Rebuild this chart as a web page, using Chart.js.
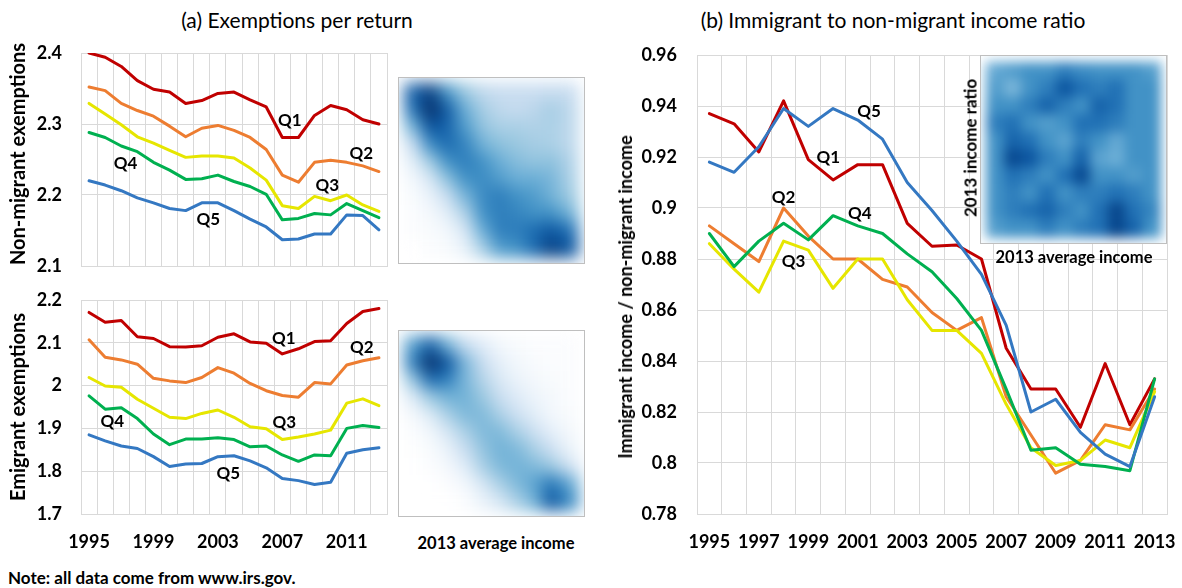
<!DOCTYPE html>
<html>
<head>
<meta charset="utf-8">
<script src="https://cdn.jsdelivr.net/npm/chart.js@4.4.1/dist/chart.umd.min.js"></script>
<style>
  html, body { margin: 0; padding: 0; background: #fff; }
  body { width: 1182px; height: 588px; position: relative; overflow: hidden; font-family: Lato, "Open Sans", sans-serif; color: #000; }
  canvas { position: absolute; display: block; }
  .txt { position: absolute; white-space: nowrap; line-height: 1; }
  .title { font-size: 21px; transform: translate(-50%, -50%); }
  .bold { font-weight: bold; }
  .ctr { transform: translate(-50%, -50%); }
  .rot { transform: translate(-50%, -50%) rotate(-90deg); }
</style>
</head>
<body>
<div class="txt title" style="left:297px; top:19px;">(a) Exemptions per return</div>
<div class="txt title" style="left:893px; top:19px;">(b) Immigrant to non-migrant income ratio</div>

<canvas id="cNon" width="392" height="236" style="left:0px; top:40px;"></canvas>
<canvas id="cEmi" width="392" height="280" style="left:0px; top:280px;"></canvas>
<canvas id="cRatio" width="582" height="520" style="left:600px; top:40px;"></canvas>

<canvas id="hNon" width="187" height="187" style="left:398px; top:77px;"></canvas>
<canvas id="hEmi" width="187" height="187" style="left:398px; top:330px;"></canvas>
<canvas id="hRatio" width="187" height="189" style="left:980px; top:55px;"></canvas>

<div class="txt bold rot" style="left:17px; top:154px; font-size:20px;">Non-migrant exemptions</div>
<div class="txt bold rot" style="left:17px; top:407px; font-size:20px;">Emigrant exemptions</div>
<div class="txt bold rot" style="left:625px; top:297px; font-size:18px;">Immigrant income / non-migrant income</div>

<div class="txt bold ctr" style="left:496px; top:543px; font-size:16.5px;">2013 average income</div>
<div class="txt bold ctr" style="left:1074px; top:257px; font-size:16.5px;">2013 average income</div>
<div class="txt bold rot" style="left:970px; top:148px; font-size:17px;">2013 income ratio</div>
<div class="txt bold" style="left:8px; top:569px; font-size:17px;">Note: all data come from www.irs.gov.</div>

<script>
// ---- data ----
const years = ['1995','1996','1997','1998','1999','2000','2001','2002','2003','2004',
               '2005','2006','2007','2008','2009','2010','2011','2012','2013'];
const quintiles = ['Q1','Q2','Q3','Q4','Q5'];

// Non-migrant exemptions per return, by income quintile
const nonQ1 = [2.400,2.394,2.381,2.361,2.349,2.345,2.329,2.333,2.343,2.345,2.334,2.324,2.281,2.281,2.312,2.326,2.320,2.306,2.300];
const nonQ2 = [2.352,2.347,2.329,2.319,2.311,2.297,2.282,2.294,2.298,2.291,2.281,2.264,2.228,2.218,2.246,2.249,2.246,2.241,2.233];
const nonQ3 = [2.329,2.314,2.299,2.282,2.273,2.263,2.253,2.255,2.255,2.252,2.238,2.221,2.185,2.181,2.198,2.192,2.200,2.186,2.177];
const nonQ4 = [2.288,2.281,2.269,2.261,2.246,2.235,2.222,2.223,2.228,2.219,2.212,2.201,2.165,2.167,2.174,2.172,2.188,2.178,2.168];
const nonQ5 = [2.220,2.214,2.206,2.196,2.189,2.181,2.178,2.189,2.189,2.178,2.166,2.155,2.137,2.138,2.145,2.145,2.172,2.171,2.151];

// Emigrant exemptions per return
const emiQ1 = [2.171,2.148,2.152,2.114,2.110,2.091,2.090,2.093,2.113,2.121,2.102,2.099,2.074,2.086,2.103,2.105,2.145,2.173,2.180];
const emiQ2 = [2.107,2.066,2.060,2.050,2.017,2.011,2.007,2.019,2.042,2.029,2.005,1.988,1.977,1.973,2.007,2.004,2.048,2.058,2.065];
const emiQ3 = [2.019,1.999,1.996,1.968,1.947,1.926,1.923,1.935,1.943,1.926,1.904,1.899,1.874,1.880,1.887,1.896,1.959,1.969,1.953];
const emiQ4 = [1.976,1.945,1.948,1.923,1.887,1.862,1.875,1.875,1.878,1.874,1.857,1.859,1.838,1.823,1.838,1.836,1.900,1.907,1.902];
const emiQ5 = [1.885,1.871,1.859,1.853,1.834,1.811,1.817,1.818,1.834,1.836,1.824,1.808,1.783,1.778,1.769,1.774,1.842,1.850,1.855];

// Immigrant / non-migrant average income ratio
const ratQ1 = [0.937,0.933,0.922,0.942,0.919,0.911,0.917,0.917,0.894,0.885,0.8855,0.880,0.845,0.829,0.829,0.814,0.839,0.815,0.833];
const ratQ2 = [0.893,0.886,0.879,0.900,0.889,0.880,0.880,0.872,0.869,0.859,0.852,0.857,0.826,0.811,0.796,0.801,0.815,0.813,0.829];
const ratQ3 = [0.886,0.876,0.867,0.887,0.8835,0.8685,0.880,0.880,0.864,0.852,0.852,0.843,0.823,0.806,0.799,0.801,0.809,0.806,0.828];
const ratQ4 = [0.890,0.877,0.887,0.894,0.8875,0.897,0.893,0.890,0.882,0.875,0.8645,0.852,0.829,0.805,0.806,0.7995,0.7986,0.797,0.833];
const ratQ5 = [0.918,0.914,0.924,0.939,0.932,0.939,0.9345,0.927,0.910,0.899,0.887,0.874,0.854,0.820,0.825,0.812,0.8035,0.7986,0.826];

// Density grids (rows top to bottom, 0 = empty, 1 = densest)
const densNon = [
  [0.85,0.95,0.68,0.46,0.32,0.28,0.28,0.28,0.30,0.28],
  [0.80,1.00,0.86,0.60,0.42,0.33,0.30,0.34,0.42,0.33],
  [0.58,0.90,0.84,0.66,0.48,0.40,0.40,0.38,0.40,0.33],
  [0.30,0.72,0.82,0.74,0.58,0.50,0.46,0.42,0.40,0.33],
  [0.13,0.44,0.70,0.76,0.70,0.60,0.52,0.48,0.50,0.38],
  [0.06,0.20,0.50,0.70,0.72,0.66,0.60,0.60,0.56,0.40],
  [0.03,0.10,0.28,0.56,0.72,0.76,0.70,0.66,0.58,0.45],
  [0.02,0.05,0.13,0.38,0.70,0.76,0.74,0.70,0.70,0.58],
  [0.02,0.03,0.06,0.20,0.60,0.76,0.76,0.82,0.88,0.80],
  [0.00,0.02,0.03,0.10,0.40,0.66,0.70,0.82,0.95,0.88]
];
const densEmi = [
  [0.66,0.85,0.58,0.30,0.14,0.06,0.03,0.02,0.02,0.02],
  [0.76,1.00,0.88,0.55,0.28,0.12,0.06,0.03,0.02,0.02],
  [0.48,0.82,0.76,0.56,0.36,0.18,0.09,0.05,0.03,0.02],
  [0.16,0.46,0.58,0.58,0.46,0.28,0.15,0.08,0.05,0.02],
  [0.05,0.16,0.40,0.54,0.54,0.40,0.25,0.13,0.06,0.03],
  [0.02,0.07,0.20,0.40,0.54,0.54,0.40,0.25,0.12,0.05],
  [0.01,0.03,0.10,0.28,0.48,0.58,0.54,0.40,0.25,0.09],
  [0.00,0.02,0.05,0.14,0.40,0.54,0.58,0.54,0.46,0.24],
  [0.00,0.00,0.02,0.06,0.20,0.40,0.54,0.64,0.78,0.62],
  [0.00,0.00,0.00,0.02,0.09,0.20,0.40,0.58,0.88,0.72]
];
const densRatio = [
  [0.62,0.66,0.70,0.70,0.76,0.72,0.70,0.70,0.70,0.66],
  [0.66,0.56,0.70,0.76,0.88,0.80,0.76,0.80,0.70,0.70],
  [0.70,0.70,0.76,0.84,0.76,0.70,0.84,0.80,0.70,0.70],
  [0.76,0.80,0.70,0.66,0.70,0.80,0.80,0.76,0.70,0.70],
  [0.70,0.84,0.80,0.70,0.64,0.76,0.70,0.62,0.70,0.70],
  [0.70,0.92,0.88,0.76,0.70,0.84,0.64,0.60,0.70,0.70],
  [0.70,0.80,0.76,0.70,0.80,0.92,0.70,0.70,0.66,0.70],
  [0.70,0.76,0.70,0.80,0.70,0.76,0.76,0.80,0.76,0.70],
  [0.70,0.76,0.80,0.84,0.76,0.70,0.80,0.93,0.80,0.74],
  [0.66,0.70,0.70,0.76,0.70,0.76,0.80,0.93,0.84,0.70]
];

// ---- styling ----
Chart.defaults.font.family = 'Lato, "Open Sans", sans-serif';
Chart.defaults.color = '#000';
const GRID = '#d9d9d9';
const colors = ['#c00000', '#ed7d31', '#e6e600', '#00b050', '#3478c2'];
const tickFont = { size: 18, weight: 'bold' };

function fmt(v) { return String(parseFloat(Number(v).toFixed(2))); }

// Text tags for each quintile line, anchored in data units (category index, value)
const tagPlugin = {
  id: 'qtags',
  afterDatasetsDraw(chart, args, opts) {
    if (!opts.items) return;
    const { ctx, scales: { x, y } } = chart;
    ctx.save();
    ctx.font = 'bold 17px Lato, "Open Sans", sans-serif';
    ctx.fillStyle = '#000';
    ctx.textAlign = 'center';
    ctx.textBaseline = 'middle';
    opts.items.forEach(([idx, val, txt]) => {
      ctx.fillText(txt, x.getPixelForValue(idx), y.getPixelForValue(val));
    });
    ctx.restore();
  }
};

function lineChart(id, series, cfg) {
  const datasets = series.map((d, k) => ({
    label: quintiles[k],
    data: d,
    borderColor: colors[k],
    backgroundColor: colors[k],
    borderWidth: 3,
    pointRadius: 0,
    tension: 0,
    fill: false,
    borderJoinStyle: 'round',
    borderCapStyle: 'round',
    order: series.length - k
  }));
  return new Chart(document.getElementById(id), {
    type: 'line',
    data: { labels: years, datasets },
    options: {
      responsive: false,
      animation: false,
      events: [],
      layout: { padding: cfg.padding },
      plugins: {
        legend: { display: false },
        tooltip: { enabled: false },
        qtags: { items: cfg.tags }
      },
      scales: {
        x: {
          type: 'category',
          offset: true,
          grid: { offset: true, color: GRID, drawTicks: false },
          border: { color: GRID },
          ticks: {
            display: cfg.xEvery > 0,
            autoSkip: false,
            maxRotation: 0,
            padding: 17,
            font: tickFont,
            callback: (v, i) => (cfg.xEvery > 0 && i % cfg.xEvery === 0) ? years[i] : ''
          },
          afterFit: s => {
            s.height = cfg.xEvery > 0 ? 40 : 0;
            s.paddingLeft = 0; s.paddingRight = 0;
          }
        },
        y: {
          min: cfg.min, max: cfg.max,
          grid: { color: GRID, drawTicks: false },
          border: { color: GRID },
          ticks: { stepSize: cfg.step, padding: cfg.tickPad, font: tickFont, callback: fmt },
          afterFit: s => {
            s.width = cfg.yWidth;
            s.paddingTop = 0; s.paddingBottom = 0;
          }
        }
      }
    },
    plugins: [tagPlugin]
  });
}

lineChart('cNon', [nonQ1, nonQ2, nonQ3, nonQ4, nonQ5], {
  min: 2.1, max: 2.4, step: 0.1,
  yWidth: 81, tickPad: 19, xEvery: 0,
  padding: { top: 13, right: 5, bottom: 10, left: 0 },
  tags: [[12.46, 2.305, 'Q1'], [16.9, 2.258, 'Q2'], [14.8, 2.213, 'Q3'], [2.27, 2.244, 'Q4'], [7.4, 2.166, 'Q5']]
});

lineChart('cEmi', [emiQ1, emiQ2, emiQ3, emiQ4, emiQ5], {
  min: 1.7, max: 2.2, step: 0.1,
  yWidth: 81, tickPad: 19, xEvery: 4,
  padding: { top: 20, right: 5, bottom: 6, left: 0 },
  tags: [[12.09, 2.110, 'Q1'], [16.93, 2.089, 'Q2'], [12.13, 1.913, 'Q3'], [1.45, 1.917, 'Q4'], [8.65, 1.794, 'Q5']]
});

lineChart('cRatio', [ratQ1, ratQ2, ratQ3, ratQ4, ratQ5], {
  min: 0.78, max: 0.96, step: 0.02,
  yWidth: 97, tickPad: 20, xEvery: 2,
  padding: { top: 15, right: 15, bottom: 6, left: 0 },
  tags: [[6.46, 0.938, 'Q5'], [4.81, 0.9197, 'Q1'], [3.0, 0.904, 'Q2'], [6.08, 0.898, 'Q4'], [3.4, 0.879, 'Q3']]
});

// ---- density panels ----
const blues = [
  [0.00, 255, 255, 255], [0.15, 222, 235, 247], [0.30, 198, 219, 239], [0.45, 158, 202, 225],
  [0.60, 107, 174, 214], [0.70, 66, 146, 198], [0.80, 33, 113, 181], [0.90, 8, 81, 156], [1.00, 8, 48, 107]
];
function blueAt(t) {
  t = Math.max(0, Math.min(1, t));
  for (let i = 1; i < blues.length; i++) {
    if (t <= blues[i][0]) {
      const a = blues[i - 1], b = blues[i];
      const f = (t - a[0]) / (b[0] - a[0]);
      const c = [1, 2, 3].map(k => Math.round(a[k] + (b[k] - a[k]) * f));
      return `rgb(${c[0]},${c[1]},${c[2]})`;
    }
  }
  return 'rgb(8,48,107)';
}

// Cells are painted sharp on an offscreen layer, then composited once with a blur
const densityPlugin = {
  id: 'density',
  beforeDatasetsDraw(chart, args, opts) {
    const { ctx, chartArea: a, scales: { x, y }, width, height } = chart;
    const grid = opts.grid;
    const layer = document.createElement('canvas');
    layer.width = width; layer.height = height;
    const lc = layer.getContext('2d');
    grid.forEach((row, r) => {
      row.forEach((val, c) => {
        const x0 = x.getPixelForValue(c - 0.5), x1 = x.getPixelForValue(c + 0.5);
        const y0 = y.getPixelForValue(r - 0.5), y1 = y.getPixelForValue(r + 0.5);
        lc.fillStyle = blueAt(val);
        lc.fillRect(Math.floor(Math.min(x0, x1)), Math.floor(Math.min(y0, y1)),
                    Math.ceil(Math.abs(x1 - x0)) + 1, Math.ceil(Math.abs(y1 - y0)) + 1);
      });
    });
    ctx.save();
    ctx.fillStyle = '#fff';
    ctx.fillRect(a.left, a.top, a.right - a.left, a.bottom - a.top);
    ctx.beginPath();
    ctx.rect(a.left, a.top, a.right - a.left, a.bottom - a.top);
    ctx.clip();
    ctx.filter = `blur(${opts.blur}px)`;
    ctx.drawImage(layer, 0, 0);
    ctx.restore();
    ctx.save();
    ctx.strokeStyle = '#bfbfbf';
    ctx.lineWidth = 1;
    ctx.strokeRect(a.left + 0.5, a.top + 0.5, a.right - a.left - 1, a.bottom - a.top - 1);
    ctx.restore();
  }
};

function densityChart(id, grid, blur) {
  return new Chart(document.getElementById(id), {
    type: 'scatter',
    data: { datasets: [{ data: [], pointRadius: 0 }] },
    options: {
      responsive: false,
      animation: false,
      events: [],
      layout: { padding: 0 },
      plugins: { legend: { display: false }, tooltip: { enabled: false }, density: { grid, blur } },
      scales: {
        x: { type: 'linear', min: -0.9, max: grid[0].length - 0.1, display: false },
        y: { type: 'linear', min: -0.9, max: grid.length - 0.1, reverse: true, display: false }
      }
    },
    plugins: [densityPlugin]
  });
}

densityChart('hNon', densNon, 8);
densityChart('hEmi', densEmi, 8);
densityChart('hRatio', densRatio, 6);
</script>
</body>
</html>
